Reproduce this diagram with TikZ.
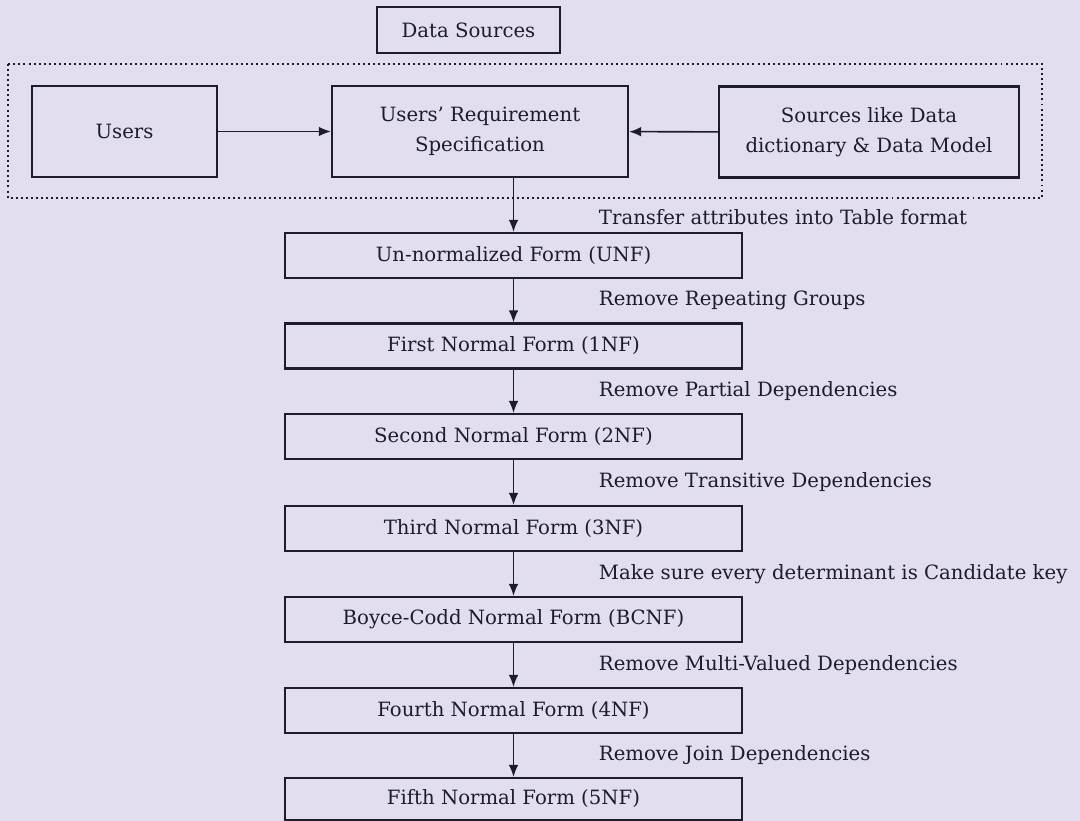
\documentclass[tikz,border=0pt]{standalone}
\usepackage{fontspec}
\setmainfont{DejaVu Serif}
\usetikzlibrary{arrows.meta,positioning}

\definecolor{paper}{RGB}{226,222,240}
\definecolor{ink}{RGB}{28,28,42}

\tikzset{
  formbox/.style={draw=ink, line width=1.5pt, minimum width=11.425cm, minimum height=1.125cm, inner sep=0pt},
  srcbox/.style={draw=ink, line width=1.5pt, minimum height=2.275cm, align=center, inner sep=0pt},
  flow/.style={-{Latex[length=3mm,width=2.4mm]}, draw=ink, line width=1.1pt},
  rulelabel/.style={anchor=west, xshift=2cm},
}

\begin{document}
\begin{tikzpicture}[x=0.025cm, y=-0.025cm, font=\fontsize{14}{21}\selectfont, text=ink]
\path[use as bounding box, fill=paper] (0,0) rectangle (1080,821);

% where the requirements come from
\node[draw=ink, line width=1.5pt, minimum width=4.575cm, minimum height=1.15cm] (datasrc) at (468.5,30) {Data Sources};
\draw[ink, line width=1.4pt, dash pattern=on 1.4pt off 2.2pt] (8,64) rectangle (1042,198);
\node[srcbox, minimum width=4.625cm] (users) at (124.5,131.5) {Users};
\node[srcbox, minimum width=7.4cm] (urs) at (480,131.5) {Users' Requirement\\Specification};
\node[srcbox, minimum width=7.5cm] (dict) at (869,132) {Sources like Data\\dictionary \& Data Model};
\draw[flow] (users) -- (urs);
\draw[flow] (dict) -- (urs);

% normal forms, top to bottom
\node[formbox] (unf) at (513.5,255.5) {Un-normalized Form (UNF)};
\node[formbox] (nf1) at (513.5,346) {First Normal Form (1NF)};
\node[formbox] (nf2) at (513.5,436.5) {Second Normal Form (2NF)};
\node[formbox] (nf3) at (513.5,528.5) {Third Normal Form (3NF)};
\node[formbox] (bcnf) at (513.5,619.5) {Boyce-Codd Normal Form (BCNF)};
\node[formbox] (nf4) at (513.5,710.5) {Fourth Normal Form (4NF)};
\node[formbox, minimum height=1.05cm] (nf5) at (513.5,799) {Fifth Normal Form (5NF)};

\draw[flow] (unf |- urs.south) -- node[rulelabel, pos=0.73] {Transfer attributes into Table format} (unf);
\draw[flow] (unf) -- node[rulelabel] {Remove Repeating Groups} (nf1);
\draw[flow] (nf1) -- node[rulelabel] {Remove Partial Dependencies} (nf2);
\draw[flow] (nf2) -- node[rulelabel] {Remove Transitive Dependencies} (nf3);
\draw[flow] (nf3) -- node[rulelabel] {Make sure every determinant is Candidate key} (bcnf);
\draw[flow] (bcnf) -- node[rulelabel] {Remove Multi-Valued Dependencies} (nf4);
\draw[flow] (nf4) -- node[rulelabel] {Remove Join Dependencies} (nf5);
\end{tikzpicture}
\end{document}
